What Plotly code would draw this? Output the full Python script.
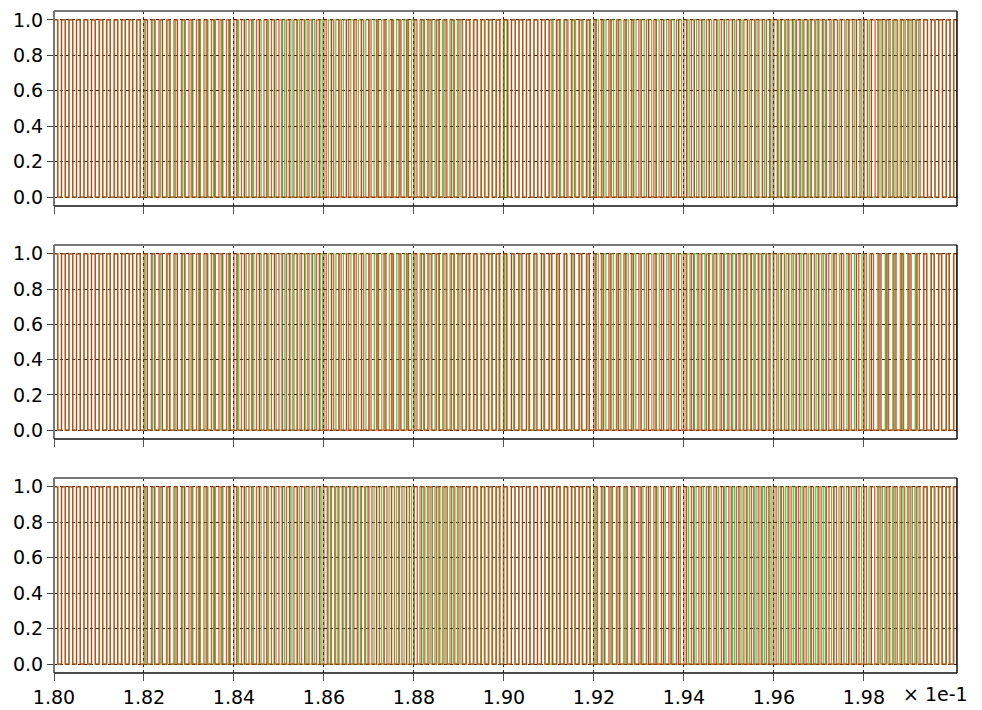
import plotly.graph_objects as go
from plotly.subplots import make_subplots

# ---------------- data ----------------
T_START = 0.180
T_END = 0.20007
CARRIER_PERIOD = 1.0 / 6000.0          # switching period (s)
SEGMENT = 0.001                        # duty / shift values are given per 1 ms segment

# panel 1
red_duty_1   = [0.50, 0.48, 0.45, 0.42, 0.40, 0.38, 0.30, 0.28, 0.40, 0.48,
                0.50, 0.40, 0.32, 0.30, 0.38, 0.45, 0.46, 0.48, 0.50, 0.50]
green_duty_1 = [0.50, 0.45, 0.30, 0.25, 0.24, 0.28, 0.40, 0.45, 0.45, 0.48,
                0.50, 0.46, 0.42, 0.40, 0.30, 0.26, 0.25, 0.30, 0.45, 0.50]
green_shift_1 = [0.00, 0.08, 0.18, 0.28, 0.38, 0.48, 0.58, 0.68, 0.80, 0.92,
                 0.02, 0.10, 0.20, 0.30, 0.40, 0.50, 0.60, 0.72, 0.84, 0.96]

# panel 2
red_duty_2   = [0.50, 0.48, 0.45, 0.44, 0.42, 0.40, 0.30, 0.28, 0.40, 0.45,
                0.42, 0.40, 0.30, 0.28, 0.30, 0.35, 0.40, 0.32, 0.30, 0.40]
green_duty_2 = [0.50, 0.46, 0.28, 0.25, 0.26, 0.30, 0.42, 0.45, 0.46, 0.40,
                0.28, 0.26, 0.40, 0.42, 0.40, 0.38, 0.30, 0.28, 0.30, 0.40]
green_shift_2 = [0.00, 0.06, 0.16, 0.27, 0.38, 0.49, 0.60, 0.71, 0.82, 0.93,
                 0.01, 0.09, 0.19, 0.30, 0.41, 0.52, 0.63, 0.74, 0.85, 0.95]

# panel 3
red_duty_3   = [0.50, 0.48, 0.42, 0.40, 0.40, 0.42, 0.44, 0.40, 0.45, 0.48,
                0.48, 0.45, 0.40, 0.30, 0.30, 0.32, 0.30, 0.35, 0.45, 0.48]
green_duty_3 = [0.50, 0.46, 0.28, 0.26, 0.25, 0.26, 0.28, 0.35, 0.46, 0.48,
                0.48, 0.46, 0.30, 0.26, 0.25, 0.26, 0.28, 0.30, 0.42, 0.46]
green_shift_3 = [0.00, 0.07, 0.17, 0.27, 0.37, 0.47, 0.57, 0.68, 0.79, 0.90,
                 0.99, 0.08, 0.18, 0.28, 0.38, 0.48, 0.58, 0.69, 0.80, 0.91]

x_tick_values = [0.180, 0.182, 0.184, 0.186, 0.188, 0.190, 0.192, 0.194, 0.196, 0.198]
x_tick_labels = ["1.80", "1.82", "1.84", "1.86", "1.88", "1.90", "1.92", "1.94", "1.96", "1.98"]
y_tick_values = [0.0, 0.2, 0.4, 0.6, 0.8, 1.0]
y_tick_labels = ["0.0", "0.2", "0.4", "0.6", "0.8", "1.0"]
x_scale_label = "× 1e-1"

panels = [
    (red_duty_1, green_duty_1, green_shift_1),
    (red_duty_2, green_duty_2, green_shift_2),
    (red_duty_3, green_duty_3, green_shift_3),
]

RED = "rgba(255,0,0,0.72)"
GREEN = "rgba(0,205,0,0.75)"


def pulse_train(duties, shifts):
    """Build a square wave (step trace) from per-segment duty cycles and shifts."""
    xs, ys = [T_START], [0.0]
    k = -1
    while True:
        seg_t = T_START + max(k, 0) * CARRIER_PERIOD
        seg = min(int((seg_t - T_START) / SEGMENT), len(duties) - 1)
        d = duties[seg]
        s = shifts[seg] if shifts is not None else 0.0
        start = T_START + (k + s) * CARRIER_PERIOD
        if start > T_END:
            break
        stop = start + d * CARRIER_PERIOD
        a = max(start, T_START)
        b = min(stop, T_END)
        if b > a:
            xs += [a, a, b, b]
            ys += [0.0, 1.0, 1.0, 0.0]
        k += 1
    xs.append(T_END)
    ys.append(0.0)
    return xs, ys


fig = make_subplots(rows=3, cols=1, shared_xaxes=False, vertical_spacing=0.0)

domains = [(0.7054, 1.0), (0.3535, 0.6465), (0.0, 0.2946)]

for i, (rd, gd, gs) in enumerate(panels, start=1):
    gx, gy = pulse_train(gd, gs)
    rx, ry = pulse_train(rd, None)
    fig.add_trace(go.Scatter(x=gx, y=gy, mode="lines",
                             line=dict(color=GREEN, width=1.3), showlegend=False,
                             hoverinfo="skip"), row=i, col=1)
    fig.add_trace(go.Scatter(x=rx, y=ry, mode="lines",
                             line=dict(color=RED, width=1.3), showlegend=False,
                             hoverinfo="skip"), row=i, col=1)

font = dict(family="DejaVu Sans", size=19, color="#000")

for i in range(1, 4):
    xa = "xaxis" if i == 1 else f"xaxis{i}"
    ya = "yaxis" if i == 1 else f"yaxis{i}"
    fig.layout[xa].update(
        domain=[0, 1], range=[T_START, T_END], automargin=False,
        tickvals=x_tick_values, ticktext=x_tick_labels,
        showticklabels=(i == 3), tickfont=font,
        showgrid=True, gridcolor="#222", griddash="dot", gridwidth=1,
        ticks="outside", ticklen=7, tickcolor="#555", tickwidth=1,
        ticklabelstandoff=0,
        showline=False, zeroline=False,
    )
    fig.layout[ya].update(
        domain=list(domains[i - 1]), range=[-0.05, 1.05], automargin=False,
        tickvals=y_tick_values, ticktext=y_tick_labels, tickfont=font,
        showgrid=True, gridcolor="#222", griddash="dot", gridwidth=1,
        ticks="outside", ticklen=6, tickcolor="#444",
        showline=False, zeroline=False,
    )
    xr = "x" if i == 1 else f"x{i}"
    yr = "y" if i == 1 else f"y{i}"
    # frame: top/left grey, bottom/right black
    fig.add_shape(type="line", xref=f"{xr} domain", yref=f"{yr} domain",
                  x0=0, x1=1, y0=1, y1=1, line=dict(color="#777", width=2))
    fig.add_shape(type="line", xref=f"{xr} domain", yref=f"{yr} domain",
                  x0=0, x1=0, y0=0, y1=1, line=dict(color="#777", width=2))
    fig.add_shape(type="line", xref=f"{xr} domain", yref=f"{yr} domain",
                  x0=0, x1=1, y0=0, y1=0, line=dict(color="#111", width=1.5))
    fig.add_shape(type="line", xref=f"{xr} domain", yref=f"{yr} domain",
                  x0=1, x1=1, y0=0, y1=1, line=dict(color="#111", width=1.5))

fig.add_annotation(text=x_scale_label, xref="paper", yref="paper",
                   x=0.9446, y=-0.032, xanchor="left", xshift=-6,
                   yanchor="middle", showarrow=False, font=font)

fig.update_layout(
    width=982, height=710,
    margin=dict(l=54, r=25, t=11, b=37, autoexpand=False),
    paper_bgcolor="white", plot_bgcolor="white",
    showlegend=False,
)

fig.write_html("out.html", config={"displayModeBar": False},
               post_script="document.body.style.margin='0';document.body.style.overflow='hidden';")
